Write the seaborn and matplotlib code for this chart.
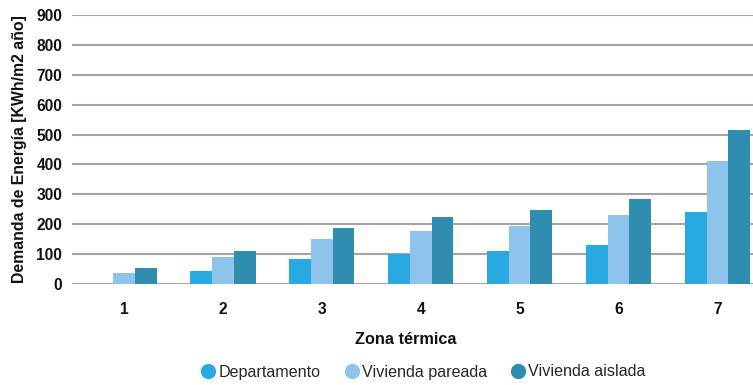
import matplotlib
matplotlib.use("Agg")
import matplotlib.pyplot as plt
from matplotlib.lines import Line2D
import seaborn as sns
import pandas as pd

zonas = ["1", "2", "3", "4", "5", "6", "7"]
departamento = [0, 45, 85, 100, 110, 130, 240]
vivienda_pareada = [38, 92, 149, 177, 193, 230, 410]
vivienda_aislada = [52, 112, 187, 223, 247, 283, 515]
series = ["Departamento", "Vivienda pareada", "Vivienda aislada"]
colores = ["#29A9E1", "#8EC4EB", "#2F8DB0"]

df = pd.DataFrame({
    "zona": zonas * 3,
    "serie": [s for s in series for _ in zonas],
    "valor": departamento + vivienda_pareada + vivienda_aislada,
})

sns.set_theme(style="white")
plt.rcParams["font.family"] = ["Liberation Sans", "DejaVu Sans"]

fig = plt.figure(figsize=(7.53, 3.85), dpi=100)
ax = fig.add_axes([72 / 753, 1 - 284 / 385, 1 - 72 / 753, (284 - 15) / 385])

sns.barplot(data=df, x="zona", y="valor", hue="serie", order=zonas,
            hue_order=series, palette=colores, width=0.66, gap=0,
            saturation=1, ax=ax, legend=False, zorder=3)
for p in ax.patches:
    p.set_edgecolor("none")
    p.set_clip_on(False)

ax.set_ylim(0, 900)
ax.set_xlim(-0.526, 6.36)
ax.set_yticks(range(0, 901, 100))
ax.yaxis.grid(True, color="#a4a4a4", linewidth=1.5, zorder=0)
ax.set_axisbelow(True)
for s in ax.spines.values():
    s.set_visible(False)

ax.tick_params(axis="y", length=0, pad=7, labelsize=11.2)
ax.tick_params(axis="x", length=0, pad=13, labelsize=11.2)
for lbl in ax.get_xticklabels() + ax.get_yticklabels():
    lbl.set_fontweight("bold")
    lbl.set_color("#111111")

ax.set_xlabel("Zona térmica", fontsize=11.7, fontweight="bold", color="#111111")
ax.xaxis.set_label_coords((406 - 72) / (753 - 72), -(339 - 284) / (284 - 15))
ax.xaxis.label.set_va("center")
ax.set_ylabel("Demanda de Energía [KWh/m2 año]", fontsize=11.4,
              fontweight="bold", color="#111111")
ax.yaxis.set_label_coords(-(72 - 20) / (753 - 72), 0.5)
ax.yaxis.label.set_va("center")

handles = [Line2D([0], [0], marker="o", linestyle="none", markersize=11,
                  markerfacecolor=c, markeredgecolor="none") for c in colores]
fig.legend(handles, series, loc="center", bbox_to_anchor=(423 / 753, 1 - 372 / 385),
           ncol=3, frameon=False, fontsize=11.6, handletextpad=0.15,
           columnspacing=1.4, handlelength=1.0)

fig.savefig("out.png", dpi=100)
